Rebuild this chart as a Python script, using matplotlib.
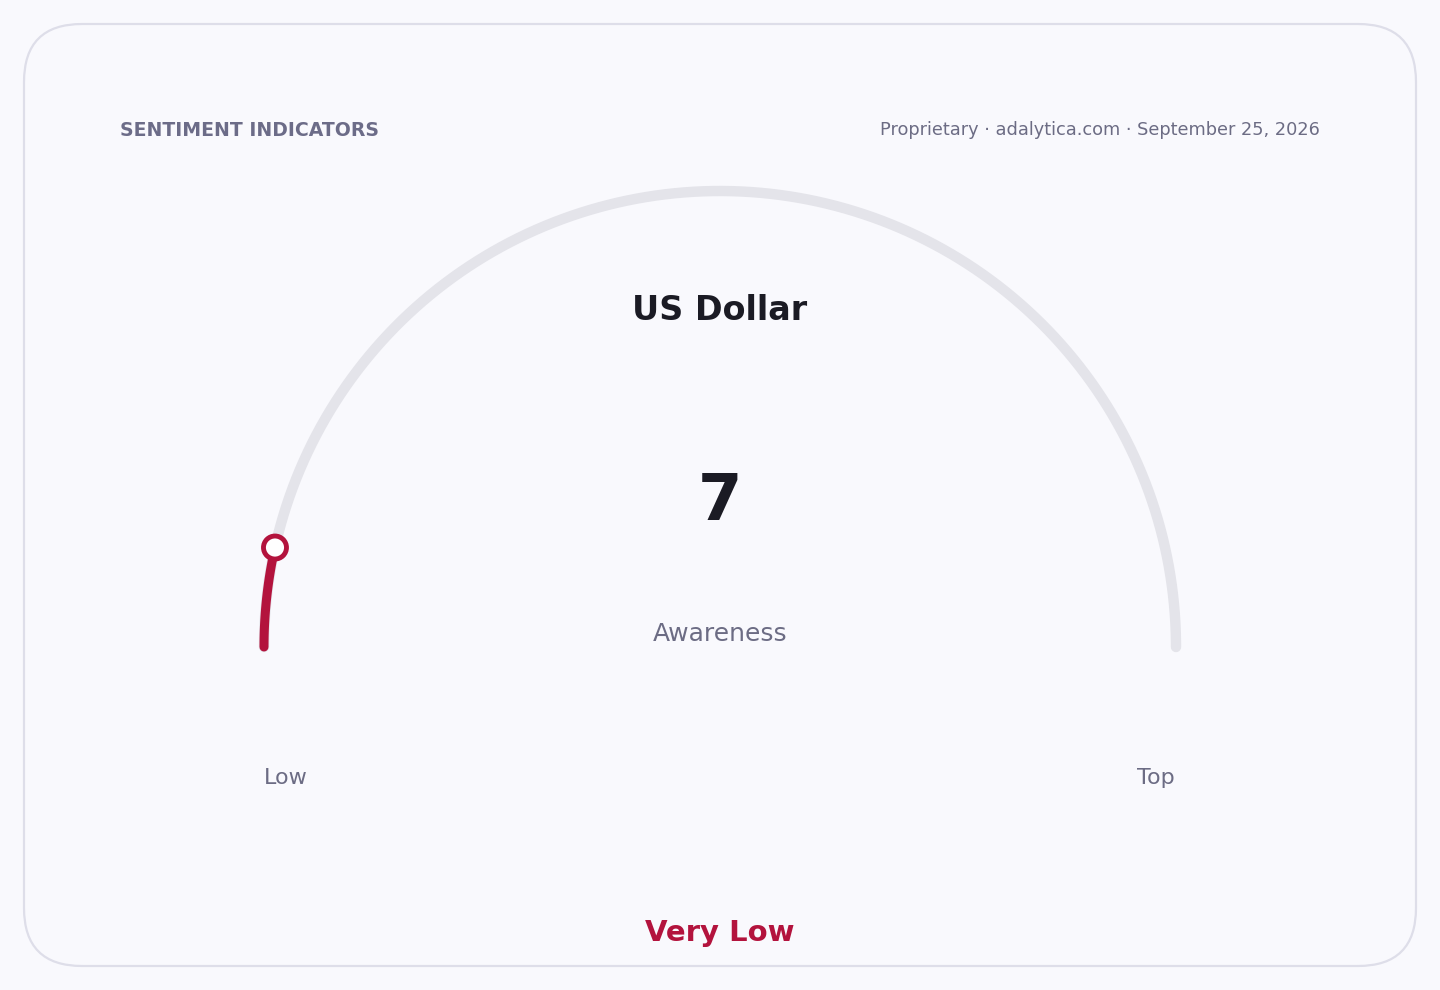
import numpy as np
import matplotlib
matplotlib.use('Agg')
from matplotlib import pyplot as plt
from matplotlib.patches import FancyBboxPatch, Circle

title = 'US Dollar'
value = 7
vmin, vmax = 0, 100
metric = 'Awareness'
band = 'Very Low'
low_label, top_label = 'Low', 'Top'
header_left = 'SENTIMENT INDICATORS'
header_right = 'Proprietary · adalytica.com · September 25, 2026'

red = '#b3133d'
track = '#e4e4ea'
bg = '#f9f9fd'

fig = plt.figure(figsize=(14.4, 9.9), dpi=100)
fig.patch.set_facecolor(bg)
ax = fig.add_axes([0, 0, 1, 1])
ax.set_xlim(0, 1440)
ax.set_ylim(990, 0)
ax.axis('off')

card = FancyBboxPatch((24, 24), 1392, 942, boxstyle='round,pad=0,rounding_size=58',
                      facecolor=bg, edgecolor='#dedee9', linewidth=1.6)
ax.add_patch(card)

ax.text(120, 130, header_left, fontsize=13.6, fontweight='bold', color='#6c6c88',
        ha='left', va='center')
ax.text(1320, 130, header_right, fontsize=12.8, color='#6c6c84', ha='right', va='center')

# gauge geometry
cx, cy, r = 720, 647, 456
theta = np.linspace(np.pi, 0, 300)
ax.plot(cx + r * np.cos(theta), cy - r * np.sin(theta), color=track, lw=7.5,
        solid_capstyle='round', zorder=2)

frac = (value - vmin) / (vmax - vmin)
end = np.pi - frac * np.pi
tv = np.linspace(np.pi, end, 60)
ax.plot(cx + r * np.cos(tv), cy - r * np.sin(tv), color=red, lw=6.5,
        solid_capstyle='round', zorder=3)
ax.add_patch(Circle((cx + r * np.cos(end), cy - r * np.sin(end)), 11.5,
                    facecolor='white', edgecolor=red, lw=3.5, zorder=4))

ax.text(cx, 310, title, fontsize=24, fontweight='bold', color='#1b1b24',
        ha='center', va='center')
ax.text(cx, 502, str(value), fontsize=46, fontweight='bold', color='#1b1b24',
        ha='center', va='center')
ax.text(cx, 634, metric, fontsize=18, color='#6c6c84', ha='center', va='center')
ax.text(286, 778, low_label, fontsize=16, color='#6c6c84', ha='center', va='center')
ax.text(1156, 778, top_label, fontsize=16, color='#6c6c84', ha='center', va='center')
ax.text(cx, 933, band, fontsize=21, fontweight='bold', color=red,
        ha='center', va='center')

fig.savefig('out.png', dpi=100, facecolor=bg)
